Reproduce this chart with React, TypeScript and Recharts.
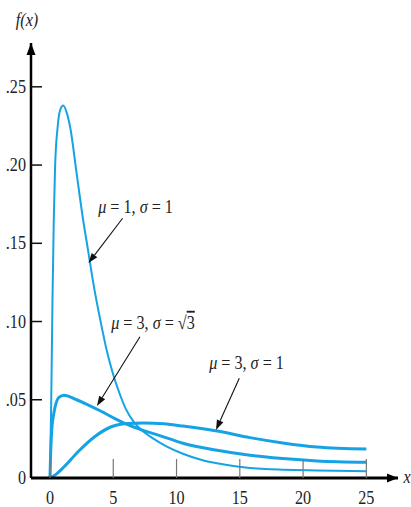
import { LineChart, Line, XAxis, YAxis, ReferenceDot, ReferenceLine } from "recharts"

type Pt = { x: number; y: number }

// values
const muOneSigmaOne: Pt[] = [
  { x: 0, y: 0 }, { x: 0.1, y: 0.05 }, { x: 0.2, y: 0.115 }, { x: 0.3, y: 0.165 },
  { x: 0.4, y: 0.198 }, { x: 0.6, y: 0.224 }, { x: 0.8, y: 0.235 }, { x: 1.05, y: 0.238 },
  { x: 1.3, y: 0.234 }, { x: 1.6, y: 0.224 }, { x: 2.1, y: 0.195 }, { x: 2.6, y: 0.166 },
  { x: 3.0, y: 0.146 }, { x: 3.5, y: 0.121 }, { x: 4.0, y: 0.1 }, { x: 4.5, y: 0.081 },
  { x: 5.0, y: 0.066 }, { x: 5.5, y: 0.054 }, { x: 6.0, y: 0.044 }, { x: 6.65, y: 0.0355 },
  { x: 7.4, y: 0.0295 }, { x: 8.2, y: 0.025 }, { x: 9.2, y: 0.0202 }, { x: 10.5, y: 0.0155 },
  { x: 12, y: 0.0115 }, { x: 13.2, y: 0.0094 }, { x: 14.5, y: 0.0076 }, { x: 15.8, y: 0.0064 },
  { x: 17, y: 0.0057 }, { x: 18.4, y: 0.0053 }, { x: 21.1, y: 0.0048 }, { x: 25, y: 0.0043 },
]

const muThreeSigmaRoot3: Pt[] = [
  { x: 0, y: 0 }, { x: 0.05, y: 0.015 }, { x: 0.15, y: 0.032 }, { x: 0.3, y: 0.041 },
  { x: 0.7, y: 0.0515 }, { x: 1.1, y: 0.0529 }, { x: 2.1, y: 0.05 }, { x: 3.0, y: 0.0468 },
  { x: 4.0, y: 0.0428 }, { x: 5.0, y: 0.0385 }, { x: 6.1, y: 0.0342 }, { x: 7.4, y: 0.0303 },
  { x: 8.5, y: 0.0276 }, { x: 10.5, y: 0.0222 }, { x: 13.2, y: 0.0177 }, { x: 15.8, y: 0.0145 },
  { x: 18.4, y: 0.0124 }, { x: 21.1, y: 0.0109 }, { x: 25, y: 0.0101 },
]

const muThreeSigmaOne: Pt[] = [
  { x: 0, y: 0 }, { x: 0.5, y: 0.0025 }, { x: 1.1, y: 0.007 }, { x: 2.2, y: 0.0166 },
  { x: 3.5, y: 0.0262 }, { x: 4.8, y: 0.0326 }, { x: 6.1, y: 0.0348 }, { x: 7.4, y: 0.0352 },
  { x: 9, y: 0.0346 }, { x: 10.5, y: 0.0332 }, { x: 13.2, y: 0.03 }, { x: 15.8, y: 0.0258 },
  { x: 18.4, y: 0.0224 }, { x: 21.1, y: 0.0198 }, { x: 25, y: 0.0185 },
]

const xTicks = [0, 5, 10, 15, 20, 25]
const yTicks = [0, 0.05, 0.1, 0.15, 0.2, 0.25]
const yTickLabels = ["0", ".05", ".10", ".15", ".20", ".25"]

const X_MIN = -1.5
const X_MAX = 27.5
const Y_MAX = 0.278

// label position, arrow tail, arrow tip (data coords)
const annotations = [
  { id: "a", mu: "1", sigma: "1", root: false, at: { x: 6.76, y: 0.1732 }, from: { x: 5.74, y: 0.166 }, to: { x: 3.04, y: 0.1374 } },
  { id: "b", mu: "3", sigma: "3", root: true, at: { x: 8.14, y: 0.099 }, from: { x: 7.11, y: 0.0903 }, to: { x: 3.71, y: 0.046 } },
  { id: "c", mu: "3", sigma: "1", root: false, at: { x: 15.53, y: 0.0735 }, from: { x: 14.96, y: 0.0637 }, to: { x: 13.12, y: 0.0307 } },
]

const BLUE = "#16a3e5"
const FONT = "'Liberation Serif', 'Times New Roman', 'DejaVu Serif', serif"
const SQUEEZE = 0.85
const txt = { fontFamily: FONT, fontSize: 19 }

const XTick = (props: any) => {
  const { x, y, payload } = props
  return (
    <g>
      <line x1={x} y1={y} x2={x} y2={y - 19} stroke="#777" strokeWidth={1.2} />
      <text transform={`translate(${x},${y + 26}) scale(${SQUEEZE},1)`} textAnchor="middle" style={txt} fill="#222">
        {payload.value}
      </text>
    </g>
  )
}

const YTick = (props: any) => {
  const { x, y, payload, index } = props
  return (
    <g>
      {payload.value !== 0 && <line x1={x} y1={y} x2={x + 11} y2={y} stroke="#111" strokeWidth={1.5} />}
      <text transform={`translate(${x - 5},${y + 6}) scale(${SQUEEZE},1)`} textAnchor="end" style={txt} fill="#222">
        {yTickLabels[index] ?? payload.value}
      </text>
    </g>
  )
}

const Arrow = (props: any) => {
  const { x1, y1, x2, y2 } = props
  const ang = Math.atan2(y2 - y1, x2 - x1)
  const len = 10
  const half = 3.5
  const bx = x2 - len * Math.cos(ang)
  const by = y2 - len * Math.sin(ang)
  const px = -Math.sin(ang) * half
  const py = Math.cos(ang) * half
  return (
    <g>
      <line x1={x1} y1={y1} x2={bx} y2={by} stroke="#111" strokeWidth={1.1} />
      <polygon points={`${x2},${y2} ${bx + px},${by + py} ${bx - px},${by - py}`} fill="#111" />
    </g>
  )
}

const Label = ({ cx, cy, mu, sigma, root }: any) => (
  <text transform={`translate(${cx},${cy + 6}) scale(${SQUEEZE},1)`} textAnchor="middle" style={txt} fill="#222">
    <tspan fontStyle="italic">μ</tspan>
    <tspan>{` = ${mu}, `}</tspan>
    <tspan fontStyle="italic">σ</tspan>
    <tspan>{" = "}</tspan>
    {root ? (
      <>
        <tspan>√</tspan>
        <tspan style={{ textDecoration: "overline" }}>{sigma}</tspan>
      </>
    ) : (
      <tspan>{sigma}</tspan>
    )}
  </text>
)

const XArrowHead = ({ cx, cy }: any) => (
  <g>
    <polygon points={`${cx},${cy} ${cx - 11},${cy - 4.5} ${cx - 11},${cy + 4.5}`} fill="#000" />
    <text transform={`translate(${cx + 9},${cy + 5}) scale(${SQUEEZE},1)`} textAnchor="middle" fontStyle="italic" style={txt} fill="#222">
      x
    </text>
  </g>
)

const YArrowHead = ({ cx, cy }: any) => (
  <g>
    <polygon points={`${cx},${cy} ${cx - 4.5},${cy + 12} ${cx + 4.5},${cy + 12}`} fill="#000" />
    <text transform={`translate(${cx - 4},${cy - 17}) scale(${SQUEEZE},1)`} textAnchor="middle" fontStyle="italic" style={txt} fill="#222">
      f(x)
    </text>
  </g>
)

export default function App() {
  return (
    <div style={{ position: "fixed", left: 0, top: 0, width: 411, height: 507, background: "#fff" }}>
      <LineChart width={411} height={507} margin={{ top: 43, right: 13, left: 0, bottom: 0 }}>
        <XAxis
          type="number"
          dataKey="x"
          domain={[X_MIN, X_MAX]}
          ticks={xTicks}
          allowDataOverflow
          height={29}
          axisLine={{ stroke: "#000", strokeWidth: 3 }}
          tickLine={false}
          tickSize={0}
          tickMargin={0}
          tick={<XTick />}
        />
        <YAxis
          type="number"
          dataKey="y"
          domain={[0, Y_MAX]}
          ticks={yTicks}
          allowDataOverflow
          width={31}
          axisLine={{ stroke: "#000", strokeWidth: 2.5 }}
          tickLine={false}
          tickSize={0}
          tickMargin={0}
          tick={<YTick />}
        />
        <Line data={muOneSigmaOne} dataKey="y" type="monotone" stroke={BLUE} strokeWidth={2} dot={false} isAnimationActive={false} />
        <Line data={muThreeSigmaRoot3} dataKey="y" type="monotone" stroke={BLUE} strokeWidth={3} dot={false} isAnimationActive={false} />
        <Line data={muThreeSigmaOne} dataKey="y" type="monotone" stroke={BLUE} strokeWidth={3} dot={false} isAnimationActive={false} />
        {annotations.map((a) => (
          <ReferenceLine key={`l${a.id}`} segment={[a.from, a.to]} ifOverflow="visible" shape={<Arrow />} />
        ))}
        {annotations.map((a) => (
          <ReferenceDot key={`t${a.id}`} x={a.at.x} y={a.at.y} r={0} ifOverflow="visible" shape={<Label mu={a.mu} sigma={a.sigma} root={a.root} />} />
        ))}
        <ReferenceDot x={X_MAX} y={0} r={0} ifOverflow="visible" shape={<XArrowHead />} />
        <ReferenceDot x={X_MIN} y={Y_MAX} r={0} ifOverflow="visible" shape={<YArrowHead />} />
      </LineChart>
    </div>
  )
}
